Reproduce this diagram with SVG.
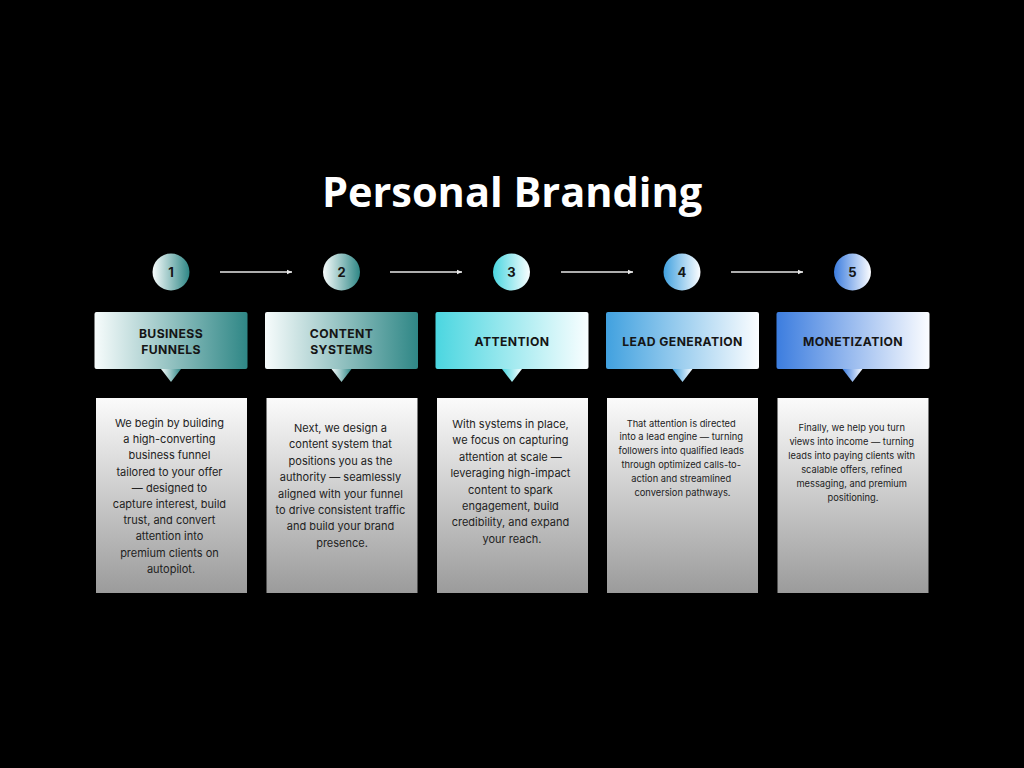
<svg xmlns="http://www.w3.org/2000/svg" width="1024" height="768" viewBox="0 0 1024 768">
<defs>
<linearGradient id="gTeal" x1="0" y1="0" x2="1" y2="0"><stop offset="0" stop-color="#f7fcfc"/><stop offset="1" stop-color="#2f8786"/></linearGradient>
<linearGradient id="gCyan" x1="0" y1="0" x2="1" y2="0"><stop offset="0" stop-color="#4bd6e0"/><stop offset="1" stop-color="#f9feff"/></linearGradient>
<linearGradient id="gBlue" x1="0" y1="0" x2="1" y2="0"><stop offset="0" stop-color="#41a1df"/><stop offset="1" stop-color="#fbfdff"/></linearGradient>
<linearGradient id="gRoyal" x1="0" y1="0" x2="1" y2="0"><stop offset="0" stop-color="#3c7ddf"/><stop offset="1" stop-color="#fbfcff"/></linearGradient>
<linearGradient id="gCard" x1="0" y1="0" x2="0" y2="1"><stop offset="0" stop-color="#fbfbfb"/><stop offset="1" stop-color="#9b9b9b"/></linearGradient>
<marker id="ah" markerWidth="6" markerHeight="6" refX="5" refY="3" orient="auto" markerUnits="userSpaceOnUse"><path d="M0,0.8 L5,3 L0,5.2 Z" fill="#e8e8e8"/></marker>
<style>
.title{font-family:"Open Sans","Noto Sans",sans-serif;font-weight:700;font-size:41.5px;fill:#ffffff}
.num{font-family:Inter,"Liberation Sans",sans-serif;font-weight:700;font-size:13px;fill:#151515}
.head{font-family:Inter,"Liberation Sans",sans-serif;font-weight:700;font-size:12.2px;fill:#151515;letter-spacing:0.4px}
.body{font-family:Inter,"Liberation Sans",sans-serif;font-size:11px;fill:#222222}
.small{font-family:Inter,"Liberation Sans",sans-serif;font-size:9.3px;fill:#222222}
.card{fill:url(#gCard)}
.arrow{stroke:#e8e8e8;stroke-width:1.3;fill:none;marker-end:url(#ah)}
</style>
</defs>
<rect width="1024" height="768" fill="#000000"/>
<text class="title" x="512" y="207" text-anchor="middle">Personal Branding</text>

<g id="connectors">
<line class="arrow" x1="220" y1="272" x2="292" y2="272"/>
<line class="arrow" x1="390" y1="272" x2="462" y2="272"/>
<line class="arrow" x1="561" y1="272" x2="633" y2="272"/>
<line class="arrow" x1="731" y1="272" x2="803" y2="272"/>
</g>

<g id="step1">
<circle cx="171" cy="272" r="18.5" fill="url(#gTeal)"/>
<text class="num" x="171" y="277" text-anchor="middle">1</text>
<rect x="94.5" y="312" width="153" height="57" rx="2" fill="url(#gTeal)"/>
<path d="M161,369 L181,369 L171,382 Z" fill="url(#gTeal)"/>
<text class="head" text-anchor="middle"><tspan x="171" y="338">BUSINESS</tspan><tspan x="171" y="354">FUNNELS</tspan></text>
<rect class="card" x="96" y="398" width="151" height="195"/>
<text class="body" text-anchor="middle">
<tspan x="171" y="427">We begin by building</tspan>
<tspan x="171" y="443.2">a high-converting</tspan>
<tspan x="171" y="459.4">business funnel</tspan>
<tspan x="171" y="475.6">tailored to your offer</tspan>
<tspan x="171" y="491.8">— designed to</tspan>
<tspan x="171" y="508">capture interest, build</tspan>
<tspan x="171" y="524.2">trust, and convert</tspan>
<tspan x="171" y="540.4">attention into</tspan>
<tspan x="171" y="556.6">premium clients on</tspan>
<tspan x="171" y="572.8">autopilot.</tspan>
</text>
</g>

<g id="step2">
<circle cx="341.5" cy="272" r="18.5" fill="url(#gTeal)"/>
<text class="num" x="341.5" y="277" text-anchor="middle">2</text>
<rect x="265" y="312" width="153" height="57" rx="2" fill="url(#gTeal)"/>
<path d="M331.5,369 L351.5,369 L341.5,382 Z" fill="url(#gTeal)"/>
<text class="head" text-anchor="middle"><tspan x="341.5" y="338">CONTENT</tspan><tspan x="341.5" y="354">SYSTEMS</tspan></text>
<rect class="card" x="266.5" y="398" width="151" height="195"/>
<text class="body" text-anchor="middle">
<tspan x="342" y="432">Next, we design a</tspan>
<tspan x="342" y="448.4">content system that</tspan>
<tspan x="342" y="464.8">positions you as the</tspan>
<tspan x="342" y="481.2">authority — seamlessly</tspan>
<tspan x="342" y="497.6">aligned with your funnel</tspan>
<tspan x="342" y="514">to drive consistent traffic</tspan>
<tspan x="342" y="530.4">and build your brand</tspan>
<tspan x="342" y="546.8">presence.</tspan>
</text>
</g>

<g id="step3">
<circle cx="511.5" cy="272" r="18.5" fill="url(#gCyan)"/>
<text class="num" x="511.5" y="277" text-anchor="middle">3</text>
<rect x="435.5" y="312" width="153" height="57" rx="2" fill="url(#gCyan)"/>
<path d="M502,369 L522,369 L512,382 Z" fill="url(#gCyan)"/>
<text class="head" x="512" y="346" text-anchor="middle">ATTENTION</text>
<rect class="card" x="437" y="398" width="151" height="195"/>
<text class="body" text-anchor="middle">
<tspan x="512" y="428">With systems in place,</tspan>
<tspan x="512" y="444.4">we focus on capturing</tspan>
<tspan x="512" y="460.8">attention at scale —</tspan>
<tspan x="512" y="477.2">leveraging high-impact</tspan>
<tspan x="512" y="493.6">content to spark</tspan>
<tspan x="512" y="510">engagement, build</tspan>
<tspan x="512" y="526.4">credibility, and expand</tspan>
<tspan x="512" y="542.8">your reach.</tspan>
</text>
</g>

<g id="step4">
<circle cx="682" cy="272" r="18.5" fill="url(#gBlue)"/>
<text class="num" x="682" y="277" text-anchor="middle">4</text>
<rect x="606" y="312" width="153" height="57" rx="2" fill="url(#gBlue)"/>
<path d="M672.5,369 L692.5,369 L682.5,382 Z" fill="url(#gBlue)"/>
<text class="head" x="682.5" y="346" text-anchor="middle">LEAD GENERATION</text>
<rect class="card" x="607" y="398" width="151" height="195"/>
<text class="small" text-anchor="middle">
<tspan x="682.5" y="426.5">That attention is directed</tspan>
<tspan x="682.5" y="440.3">into a lead engine — turning</tspan>
<tspan x="682.5" y="454.1">followers into qualified leads</tspan>
<tspan x="682.5" y="467.9">through optimized calls-to-</tspan>
<tspan x="682.5" y="481.7">action and streamlined</tspan>
<tspan x="682.5" y="495.5">conversion pathways.</tspan>
</text>
</g>

<g id="step5">
<circle cx="852.5" cy="272" r="18.5" fill="url(#gRoyal)"/>
<text class="num" x="852.5" y="277" text-anchor="middle">5</text>
<rect x="776.5" y="312" width="153" height="57" rx="2" fill="url(#gRoyal)"/>
<path d="M842.5,369 L862.5,369 L852.5,382 Z" fill="url(#gRoyal)"/>
<text class="head" x="853" y="346" text-anchor="middle">MONETIZATION</text>
<rect class="card" x="777.5" y="398" width="151" height="195"/>
<text class="small" text-anchor="middle">
<tspan x="853" y="430.5">Finally, we help you turn</tspan>
<tspan x="853" y="444.5">views into income — turning</tspan>
<tspan x="853" y="458.5">leads into paying clients with</tspan>
<tspan x="853" y="472.5">scalable offers, refined</tspan>
<tspan x="853" y="486.5">messaging, and premium</tspan>
<tspan x="853" y="500.5">positioning.</tspan>
</text>
</g>
</svg>
